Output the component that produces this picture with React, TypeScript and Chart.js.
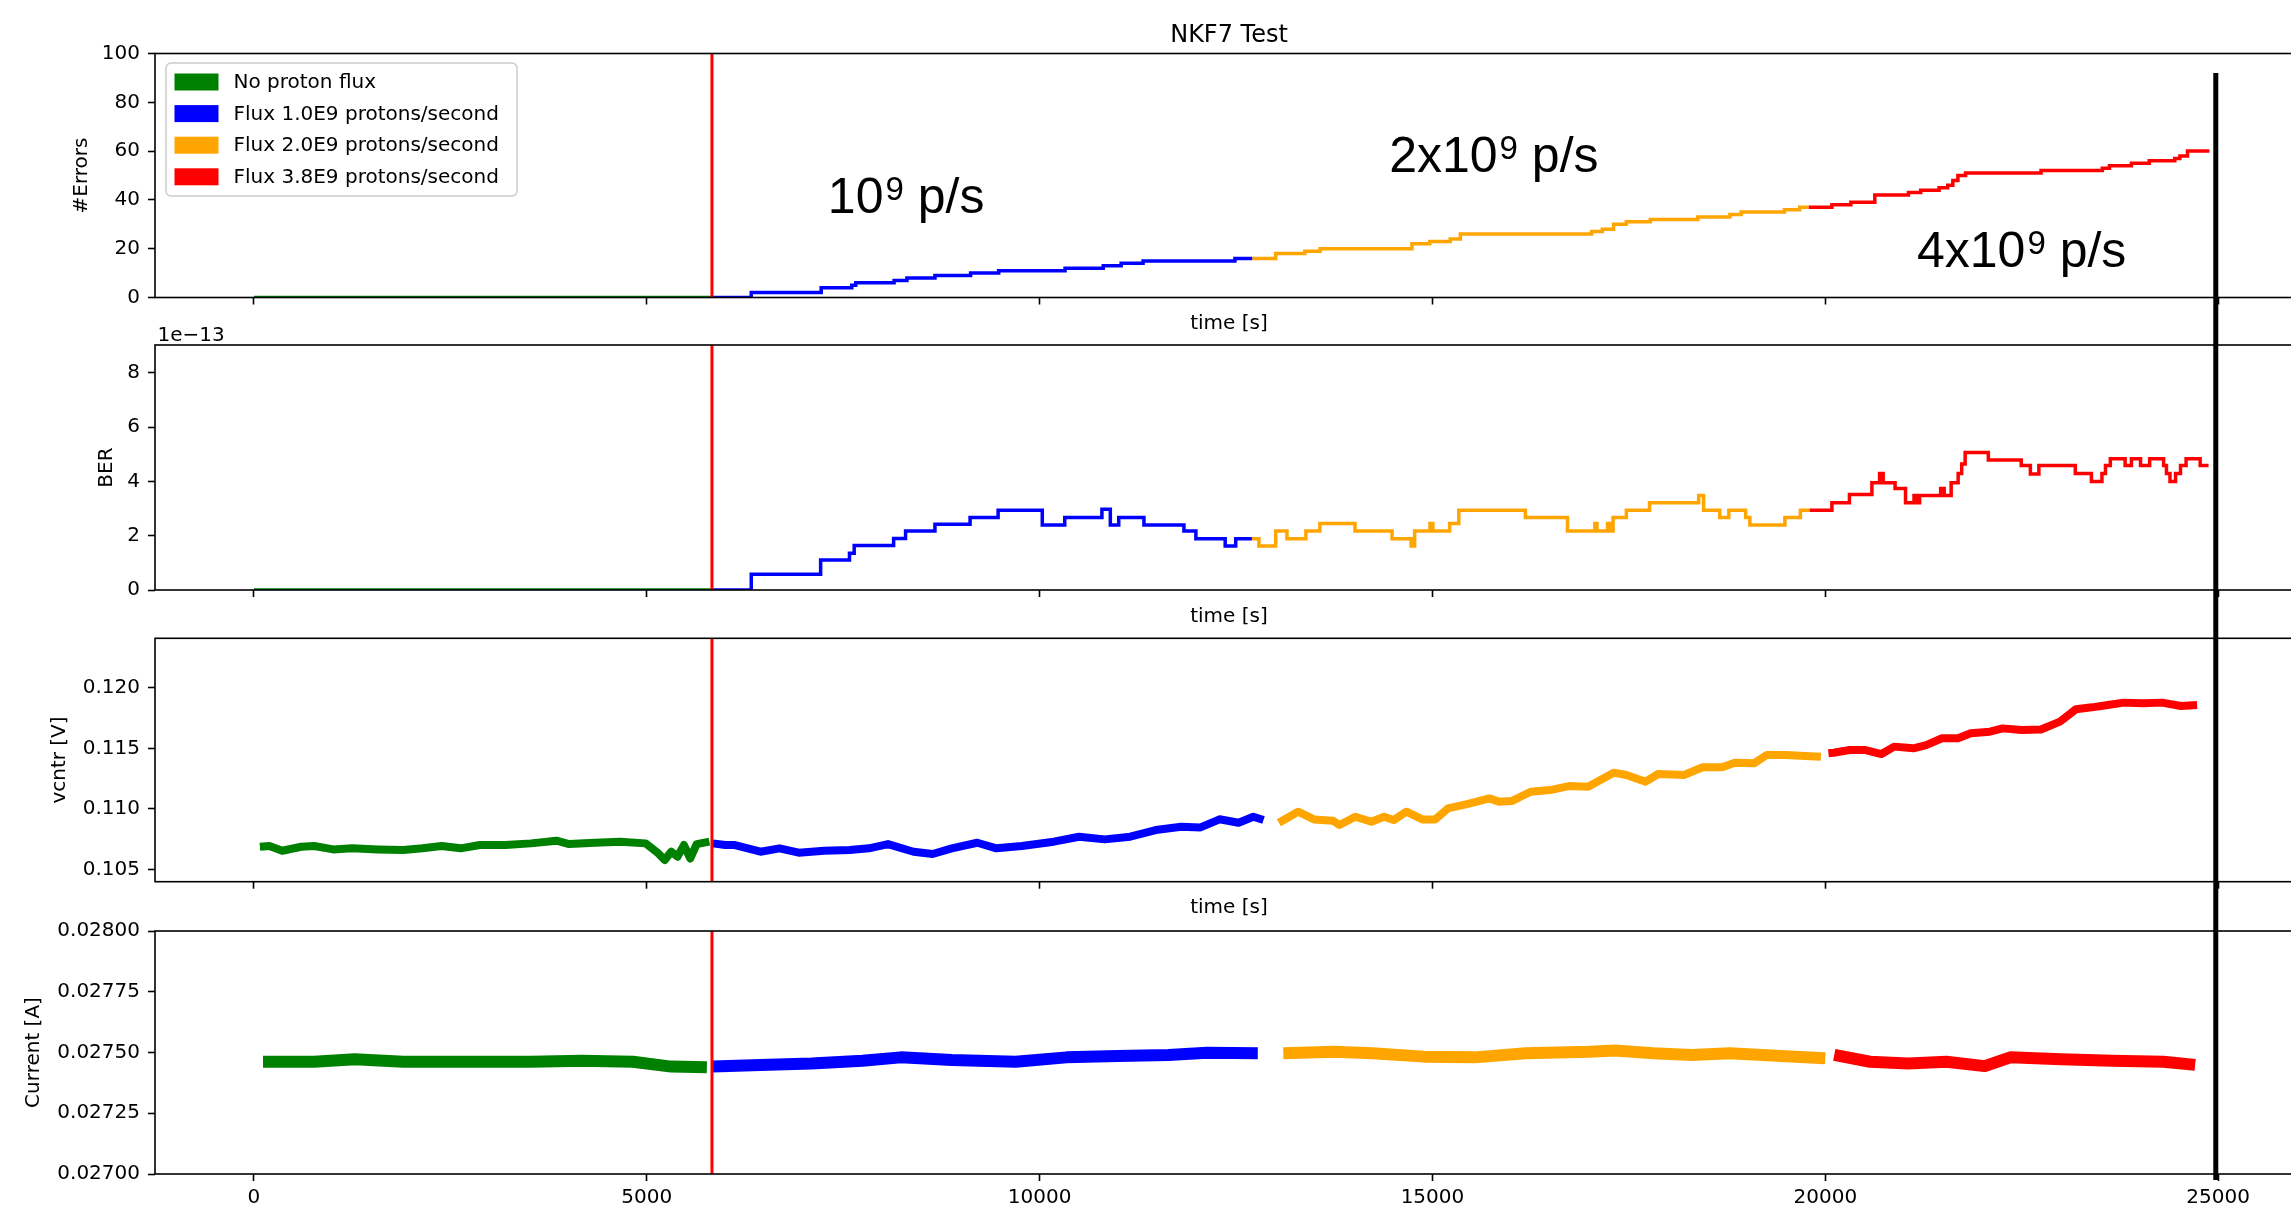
import React, { useEffect, useRef } from "react";
import { Chart, registerables } from "chart.js";
Chart.register(...registerables);

// ---------- canvas / layout constants ----------
const W = 2320;
const H = 1214;
const PLOT_LEFT = 155;
const PLOT_RIGHT = 2303;
const FONT = "'DejaVu Sans', sans-serif";
const ANNO_FONT = "'Liberation Sans', Arial, sans-serif";

// ---------- axis values ----------
const X_MIN = -1259;
const X_MAX = 26080;
const X_TICKS = [0, 5000, 10000, 15000, 20000, 25000];
const PROTON_START = 5830; // red vertical line (s)
const MARKER_TIME = 24970; // black vertical marker (s)

const ERR_TICKS = [0, 20, 40, 60, 80, 100];
const BER_TICKS = [0, 2, 4, 6, 8];
const VCNTR_TICKS = [0.105, 0.11, 0.115, 0.12];
const CURRENT_TICKS = [0.027, 0.02725, 0.0275, 0.02775, 0.028];

const SERIES_NAMES = [
  "No proton flux",
  "Flux 1.0E9 protons/second",
  "Flux 2.0E9 protons/second",
  "Flux 3.8E9 protons/second",
];
const SERIES_COLORS = ["#008000", "#0000ff", "#ffa500", "#ff0000"];

// ---------- panel 1: #Errors (step start points [t, value]) ----------
const errNoFlux = [[0, 0], [5830, 0]];
const errFlux1 = [[5830, 0], [6330, 2], [7220, 4], [7609, 5], [7660, 6], [8148, 7], [8311, 8], [8668, 9], [9122, 10], [9479, 11], [10324, 12], [10810, 13], [11038, 14], [11317, 15], [12486, 16], [12706, 16]];
const errFlux2 = [[12706, 16], [13005, 18], [13375, 19], [13570, 20], [14739, 22], [14966, 23], [15226, 24], [15355, 26], [17026, 27], [17162, 28], [17305, 30], [17468, 31], [17773, 32], [18377, 33], [18786, 34], [18929, 35], [19480, 36], [19675, 37], [19786, 37]];
const errFlux3 = [[19786, 37], [20084, 38], [20325, 39], [20630, 42], [21058, 43], [21214, 44], [21448, 45], [21558, 46], [21623, 48], [21688, 50], [21785, 51], [22746, 52], [23526, 53], [23617, 54], [23896, 55], [24123, 56], [24448, 57], [24513, 58], [24610, 60], [24889, 60]];

// ---------- panel 2: BER in units of 1e-13 ----------
const berNoFlux = [[0, 0], [5830, 0]];
const berFlux1 = [[5830, 0], [6330, 0.58], [7213, 1.1], [7580, 1.35], [7640, 1.64], [8142, 1.9], [8294, 2.17], [8668, 2.42], [9115, 2.67], [9472, 2.94], [10034, 2.39], [10320, 2.67], [10793, 2.97], [10900, 2.39], [11007, 2.67], [11328, 2.39], [11837, 2.17], [11989, 1.89], [12362, 1.62], [12496, 1.89], [12702, 1.89]];
const berFlux2 = [[12702, 1.89], [12791, 1.62], [13005, 2.17], [13148, 1.89], [13389, 2.17], [13567, 2.45], [14014, 2.17], [14486, 1.89], [14728, 1.62], [14773, 2.17], [14969, 2.45], [15005, 2.17], [15219, 2.45], [15335, 2.94], [16183, 2.67], [16719, 2.17], [17067, 2.45], [17094, 2.17], [17228, 2.45], [17254, 2.17], [17299, 2.67], [17468, 2.94], [17763, 3.21], [18388, 3.48], [18451, 2.94], [18656, 2.67], [18772, 2.94], [18986, 2.67], [19040, 2.39], [19486, 2.67], [19683, 2.94], [19798, 2.94]];
const berFlux3 = [[19798, 2.94], [20084, 3.21], [20307, 3.52], [20593, 3.95], [20691, 4.29], [20736, 3.95], [20888, 3.74], [21021, 3.21], [21129, 3.48], [21164, 3.21], [21200, 3.48], [21468, 3.74], [21513, 3.48], [21602, 3.95], [21691, 4.29], [21736, 4.64], [21780, 5.06], [22075, 4.79], [22494, 4.58], [22610, 4.27], [22718, 4.58], [23182, 4.29], [23387, 3.99], [23521, 4.29], [23566, 4.58], [23628, 4.83], [23816, 4.58], [23896, 4.83], [24012, 4.58], [24128, 4.83], [24306, 4.58], [24342, 4.29], [24387, 3.99], [24458, 4.29], [24521, 4.58], [24592, 4.83], [24771, 4.58], [24878, 4.58]];

// ---------- panel 3: vcntr [V] ----------
const vNoFlux = [[76, 0.10687], [197, 0.10693], [360, 0.10654], [603, 0.10687], [766, 0.10693], [1009, 0.10665], [1253, 0.10674], [1577, 0.10665], [1902, 0.1066], [2145, 0.10674], [2389, 0.10693], [2632, 0.10674], [2876, 0.10701], [3200, 0.10701], [3525, 0.10715], [3850, 0.10737], [4012, 0.10709], [4337, 0.1072], [4661, 0.10729], [4986, 0.10715], [5148, 0.10632], [5229, 0.10577], [5311, 0.10646], [5392, 0.10605], [5473, 0.10701], [5554, 0.1059], [5635, 0.10709], [5797, 0.10729]];
const vFlux1 = [[5838, 0.10715], [6000, 0.10701], [6122, 0.10701], [6447, 0.10646], [6690, 0.10674], [6934, 0.10638], [7258, 0.10654], [7583, 0.1066], [7827, 0.10674], [8070, 0.10709], [8395, 0.10646], [8639, 0.10627], [8882, 0.10674], [9207, 0.1072], [9450, 0.10674], [9774, 0.10693], [10180, 0.10729], [10503, 0.1077], [10829, 0.10748], [11153, 0.1077], [11478, 0.10825], [11803, 0.10853], [12047, 0.10847], [12290, 0.10914], [12533, 0.10886], [12720, 0.10935], [12850, 0.10908]];
const vFlux2 = [[13045, 0.10886], [13289, 0.10977], [13492, 0.10913], [13735, 0.10902], [13816, 0.10867], [14019, 0.10935], [14222, 0.10894], [14384, 0.10935], [14506, 0.10908], [14668, 0.10977], [14871, 0.10913], [15034, 0.10913], [15196, 0.11004], [15439, 0.1104], [15724, 0.11087], [15845, 0.1106], [16008, 0.11065], [16251, 0.11142], [16495, 0.11156], [16738, 0.11189], [16981, 0.11184], [17306, 0.113], [17468, 0.1128], [17712, 0.11225], [17874, 0.11289], [18199, 0.1128], [18442, 0.11344], [18686, 0.11344], [18848, 0.11382], [19092, 0.11377], [19254, 0.11446], [19497, 0.11446], [19741, 0.11437], [19944, 0.11432]];
const vFlux3 = [[20040, 0.1146], [20106, 0.11465], [20309, 0.11487], [20512, 0.11487], [20715, 0.11454], [20877, 0.11515], [21121, 0.11501], [21283, 0.11528], [21486, 0.11584], [21689, 0.11584], [21851, 0.11625], [22095, 0.11639], [22257, 0.11666], [22500, 0.11652], [22744, 0.11657], [22987, 0.11722], [23190, 0.11824], [23393, 0.1184], [23596, 0.11859], [23799, 0.11879], [24042, 0.11873], [24286, 0.11879], [24529, 0.11851], [24732, 0.11859]];

// ---------- panel 4: Current [A] ----------
const iNoFlux = [[116, 0.027462], [766, 0.027462], [1285, 0.027472], [1902, 0.027462], [2713, 0.027462], [3525, 0.027462], [4174, 0.027466], [4824, 0.027462], [5310, 0.027442], [5765, 0.027439]];
const iFlux1 = [[5840, 0.027442], [6447, 0.027449], [7096, 0.027455], [7745, 0.027466], [8232, 0.02748], [8882, 0.027469], [9693, 0.027462], [10343, 0.02748], [10992, 0.027486], [11641, 0.02749], [12128, 0.027499], [12777, 0.027497]];
const iFlux2 = [[13102, 0.027497], [13751, 0.027503], [14238, 0.027497], [14887, 0.027483], [15537, 0.02748], [16186, 0.027497], [16998, 0.027503], [17322, 0.027508], [17809, 0.027497], [18296, 0.02749], [18782, 0.027497], [19432, 0.027486], [19999, 0.027476]];
const iFlux3 = [[20114, 0.02749], [20568, 0.027462], [21055, 0.027455], [21542, 0.027462], [22029, 0.027444], [22354, 0.02748], [23003, 0.027472], [23652, 0.027466], [24303, 0.027462], [24707, 0.027449]];

// ---------- annotations (data coords of panel 1) ----------
const ANNOTATIONS = [
  { x: 7305, y: 34.5, base: "10" },
  { x: 14449, y: 51.6, base: "2x10" },
  { x: 21167, y: 12.6, base: "4x10" },
];

type Panel = {
  series: number[][][];
  stepped: boolean;
  lineWidth: number;
  top: number;
  bottom: number;
  xAxisH: number;
  showXLabels: boolean;
  xTitle: boolean;
  yMin: number;
  yMax: number;
  yTicks: number[];
  yFmt: (v: number) => string;
  yTitle: string;
  yTitleX: number;
};

const PANELS: Panel[] = [
  { series: [errNoFlux, errFlux1, errFlux2, errFlux3], stepped: true, lineWidth: 3.5, top: 53.5, bottom: 297.5, xAxisH: 38.5, showXLabels: false, xTitle: true, yMin: 0, yMax: 100, yTicks: ERR_TICKS, yFmt: (v) => String(v), yTitle: "#Errors", yTitleX: 82 },
  { series: [berNoFlux, berFlux1, berFlux2, berFlux3], stepped: true, lineWidth: 3.5, top: 345, bottom: 590, xAxisH: 38.5, showXLabels: false, xTitle: true, yMin: 0, yMax: 9.02, yTicks: BER_TICKS, yFmt: (v) => String(v), yTitle: "BER", yTitleX: 107 },
  { series: [vNoFlux, vFlux1, vFlux2, vFlux3], stepped: false, lineWidth: 8, top: 638.3, bottom: 881.7, xAxisH: 38.5, showXLabels: false, xTitle: true, yMin: 0.10398, yMax: 0.12411, yTicks: VCNTR_TICKS, yFmt: (v) => v.toFixed(3), yTitle: "vcntr [V]", yTitleX: 60 },
  { series: [iNoFlux, iFlux1, iFlux2, iFlux3], stepped: false, lineWidth: 12, top: 931, bottom: 1174, xAxisH: 40, showXLabels: true, xTitle: false, yMin: 0.027, yMax: 0.028, yTicks: CURRENT_TICKS, yFmt: (v) => v.toFixed(5), yTitle: "Current [A]", yTitleX: 34 },
];

const framePlugin = {
  id: "frame",
  afterDatasetsDraw(chart: any) {
    const { ctx, chartArea: a, scales } = chart;
    const xr = scales.x.getPixelForValue(PROTON_START);
    ctx.save();
    ctx.strokeStyle = "#ff0000";
    ctx.lineWidth = 3;
    ctx.beginPath();
    ctx.moveTo(xr, a.top);
    ctx.lineTo(xr, a.bottom);
    ctx.stroke();
    ctx.strokeStyle = "#000";
    ctx.lineWidth = 1.6;
    ctx.strokeRect(a.left, a.top, a.right - a.left, a.bottom - a.top);
    ctx.restore();
  },
};

const topPanelPlugin = {
  id: "topPanel",
  afterDraw(chart: any) {
    const { ctx, chartArea: a, scales } = chart;
    ctx.save();
    // title
    ctx.fillStyle = "#000";
    ctx.font = `24px ${FONT}`;
    ctx.textAlign = "center";
    ctx.textBaseline = "alphabetic";
    ctx.fillText("NKF7 Test", (a.left + a.right) / 2, a.top - 12);
    // legend
    const bx = a.left + 11;
    const by = a.top + 9.5;
    ctx.beginPath();
    (ctx as any).roundRect(bx, by, 351, 133, 5);
    ctx.fillStyle = "rgba(255,255,255,0.8)";
    ctx.fill();
    ctx.strokeStyle = "#cccccc";
    ctx.lineWidth = 1.5;
    ctx.stroke();
    ctx.font = `20px ${FONT}`;
    ctx.textAlign = "left";
    ctx.textBaseline = "middle";
    chart.data.datasets.forEach((ds: any, i: number) => {
      const ry = by + 19 + i * 31.6;
      ctx.fillStyle = ds.borderColor;
      ctx.fillRect(bx + 8.5, ry - 8.5, 44, 17);
      ctx.fillStyle = "#000";
      ctx.fillText(ds.label, bx + 67.5, ry + 1);
    });
    // flux annotations
    ctx.textBaseline = "alphabetic";
    ANNOTATIONS.forEach((an) => {
      let x = scales.x.getPixelForValue(an.x);
      const y = scales.y.getPixelForValue(an.y);
      ctx.font = `50px ${ANNO_FONT}`;
      ctx.fillText(an.base, x, y);
      x += ctx.measureText(an.base).width + 2;
      ctx.font = `33px ${ANNO_FONT}`;
      ctx.fillText("9", x, y - 13);
      x += ctx.measureText("9").width;
      ctx.font = `50px ${ANNO_FONT}`;
      ctx.fillText(" p/s", x, y);
    });
    ctx.restore();
  },
};

const berPlugin = {
  id: "berOffset",
  afterDraw(chart: any) {
    const { ctx, chartArea: a } = chart;
    ctx.save();
    ctx.fillStyle = "#000";
    ctx.font = `20px ${FONT}`;
    ctx.textAlign = "left";
    ctx.textBaseline = "alphabetic";
    ctx.fillText("1e\u221213", a.left + 2.5, a.top - 4);
    ctx.restore();
  },
};

const MARKER_TOP = 73;
const MARKER_BOTTOM = 1180;
const markerPlugin = {
  id: "marker",
  afterDraw(chart: any) {
    const { ctx, scales } = chart;
    const x = scales.x.getPixelForValue(MARKER_TIME);
    ctx.save();
    ctx.strokeStyle = "#000";
    ctx.lineWidth = 5;
    ctx.beginPath();
    ctx.moveTo(x, MARKER_TOP);
    ctx.lineTo(x, MARKER_BOTTOM);
    ctx.stroke();
    ctx.restore();
  },
};

function makeConfig(p: Panel, idx: number): any {
  const extra: any[] = [framePlugin];
  if (idx === 0) extra.push(topPanelPlugin);
  if (idx === 1) extra.push(berPlugin);
  if (idx === 3) extra.push(markerPlugin);
  const tickFont = { family: FONT, size: 20 };
  return {
    type: "line",
    data: {
      datasets: p.series.map((pts, i) => ({
        label: SERIES_NAMES[i],
        data: pts.map(([x, y]) => ({ x, y })),
        borderColor: SERIES_COLORS[i],
        backgroundColor: SERIES_COLORS[i],
        borderWidth: p.lineWidth,
        pointRadius: 0,
        pointHoverRadius: 0,
        stepped: p.stepped ? "before" : false,
        tension: 0,
        fill: false,
        borderJoinStyle: p.stepped ? "miter" : "round",
        borderCapStyle: "butt",
      })),
    },
    options: {
      animation: false,
      responsive: false,
      maintainAspectRatio: false,
      devicePixelRatio: 1,
      events: [],
      layout: {
        autoPadding: false,
        padding: { left: 0, right: W - PLOT_RIGHT, top: p.top, bottom: H - p.bottom - p.xAxisH },
      },
      plugins: { legend: { display: false }, tooltip: { enabled: false }, title: { display: false } },
      scales: {
        x: {
          type: "linear",
          min: X_MIN,
          max: X_MAX,
          afterBuildTicks: (s: any) => { s.ticks = X_TICKS.map((v) => ({ value: v })); },
          afterFit: (s: any) => { s.height = p.xAxisH; },
          grid: { display: true, drawOnChartArea: false, drawTicks: true, tickLength: 7, color: "#000", tickColor: "#000", tickWidth: 1.6 },
          border: { display: false },
          ticks: { display: p.showXLabels, padding: 5, color: "#000", font: tickFont, maxRotation: 0, autoSkip: false, callback: (v: any) => String(v) },
          title: { display: p.xTitle, text: "time [s]", color: "#000", font: tickFont, padding: { top: 0, bottom: 0 } },
        },
        y: {
          type: "linear",
          min: p.yMin,
          max: p.yMax,
          afterBuildTicks: (s: any) => { s.ticks = p.yTicks.map((v) => ({ value: v })); },
          afterFit: (s: any) => { s.width = PLOT_LEFT; },
          grid: { display: true, drawOnChartArea: false, drawTicks: true, tickLength: 7, color: "#000", tickColor: "#000", tickWidth: 1.6 },
          border: { display: false },
          ticks: { padding: 8, color: "#000", font: tickFont, autoSkip: false, callback: (v: any) => p.yFmt(Number(v)) },
          title: { display: true, text: p.yTitle, color: "#000", font: tickFont, padding: { top: p.yTitleX - 12, bottom: 0 } },
        },
      },
    },
    plugins: extra,
  };
}

export default function App() {
  const refs = useRef<(HTMLCanvasElement | null)[]>([]);
  useEffect(() => {
    const charts = PANELS.map((p, i) => new Chart(refs.current[i] as HTMLCanvasElement, makeConfig(p, i)));
    return () => charts.forEach((c) => c.destroy());
  }, []);
  return (
    <div style={{ position: "fixed", left: 0, top: 0, width: 2291, height: 1214, overflow: "hidden", background: "#fff" }}>
      {PANELS.map((_, i) => (
        <canvas
          key={i}
          ref={(el) => { refs.current[i] = el; }}
          width={W}
          height={H}
          style={{ position: "absolute", left: 0, top: 0, width: W, height: H }}
        />
      ))}
    </div>
  );
}
